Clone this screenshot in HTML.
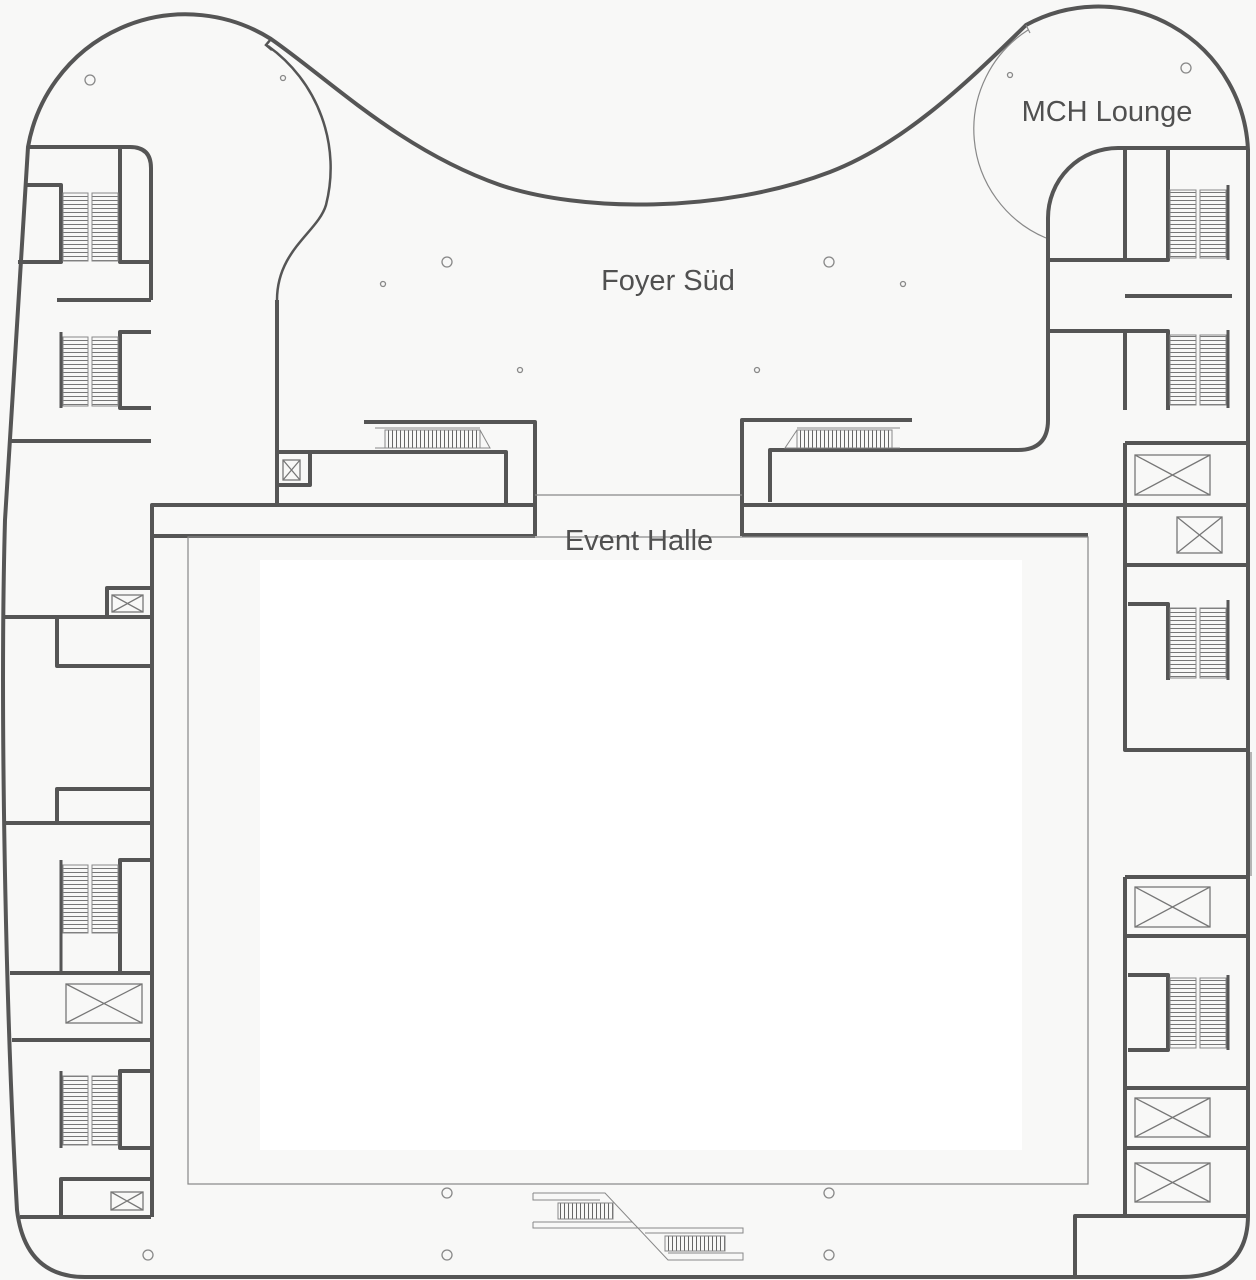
<!DOCTYPE html>
<html><head><meta charset="utf-8"><style>
html,body{margin:0;padding:0;background:#f8f8f7;}
svg{display:block;}
text{font-family:"Liberation Sans",sans-serif;fill:#505050;font-size:29px;}
</style></head><body>
<svg width="1256" height="1280" viewBox="0 0 1256 1280" xmlns="http://www.w3.org/2000/svg">
<defs>
<pattern id="hs" width="6" height="4" patternUnits="userSpaceOnUse"><rect width="6" height="4" fill="#f8f8f7"/><line x1="0" y1="0.5" x2="6" y2="0.5" stroke="#777" stroke-width="1"/></pattern>
<pattern id="vs" width="4" height="6" patternUnits="userSpaceOnUse"><rect width="4" height="6" fill="#f8f8f7"/><line x1="0.5" y1="0" x2="0.5" y2="6" stroke="#666" stroke-width="1"/></pattern>
</defs>
<rect x="0" y="0" width="1256" height="1280" fill="#f8f8f7"/>
<rect x="260" y="560" width="762" height="590" fill="#ffffff"/>

<g fill="none" stroke="#555" stroke-width="4" stroke-linejoin="round">
<path d="M28,147 A160 160 0 0 1 271,39 C330,80 400,150 500,185 C580,212 720,214 830,172 C900,145 960,90 1026,25 A150 150 0 0 1 1248,150 L1248,1215 Q1248,1277 1180,1277 L85,1277 Q25,1277 17,1210 C5,1000 0,700 5,520 Z"/>
<path d="M28,147 L130,147 Q151,147 151,168 L151,300"/>
<path d="M120,147 L120,262 L151,262"/>
<path d="M25,185 L61,185 L61,262 L18,262"/>
<path d="M57,300 L151,300"/>
<path d="M151,332 L120,332 L120,408 L151,408"/>
<path d="M61,332 L61,408" stroke-width="3"/>
<path d="M10,441 L151,441"/>
<path d="M277,300 L277,505"/>
<path d="M277,452 L506,452 L506,505"/>
<path d="M310,452 L310,485 L277,485"/>
<path d="M364,422 L535,422 L535,536"/>
<path d="M535,505 L152,505 L152,1217"/>
<path d="M535,536 L152,536"/>
<path d="M1248,148 L1118,148 A70 70 0 0 0 1048,218 L1048,420 Q1048,450 1018,450 L770,450 L770,502"/>
<path d="M912,420 L742,420 L742,536"/>
<path d="M742,505 L1125,505"/>
<path d="M742,535 L1088,535"/>
<path d="M1125,148 L1125,260"/>
<path d="M1168,148 L1168,260 L1048,260"/>
<path d="M1228,185 L1228,260" stroke-width="3"/>
<path d="M1125,296 L1232,296"/>
<path d="M1048,331 L1168,331 L1168,410"/>
<path d="M1125,331 L1125,410"/>
<path d="M1228,330 L1228,408" stroke-width="3"/>
<path d="M1125,443 L1248,443"/>
<path d="M1125,443 L1125,750 L1248,750"/>
<path d="M1125,505 L1248,505"/>
<path d="M1125,565 L1248,565"/>
<path d="M1128,604 L1168,604 L1168,680"/>
<path d="M1228,600 L1228,680" stroke-width="3"/>
<path d="M1125,877 L1248,877"/>
<path d="M1125,877 L1125,1216"/>
<path d="M1125,936 L1248,936"/>
<path d="M1128,975 L1168,975 L1168,1050 L1128,1050"/>
<path d="M1228,975 L1228,1050" stroke-width="3"/>
<path d="M1125,1088 L1248,1088"/>
<path d="M1125,1148 L1248,1148"/>
<path d="M1248,1216 L1075,1216 L1075,1277"/>
<path d="M151,588 L107,588 L107,617"/>
<path d="M5,617 L151,617"/>
<path d="M57,617 L57,666 L151,666"/>
<path d="M151,789 L57,789 L57,823"/>
<path d="M5,823 L151,823"/>
<path d="M151,860 L120,860 L120,973"/>
<path d="M61,860 L61,973" stroke-width="3"/>
<path d="M10,973 L151,973"/>
<path d="M12,1040 L151,1040"/>
<path d="M151,1071 L120,1071 L120,1148 L151,1148"/>
<path d="M61,1071 L61,1148" stroke-width="3"/>
<path d="M151,1179 L61,1179 L61,1217"/>
<path d="M20,1217 L151,1217"/>
</g>

<g fill="none" stroke="#555" stroke-width="2.5">
<path d="M268,46 A150 150 0 0 1 326,205 C318,232 277,250 277,300"/>
<path d="M271,39 L266,45 L272,50"/>
</g>
<g fill="none" stroke="#888" stroke-width="1.2">
<path d="M1028,30 A118 118 0 0 0 1046,238"/>
<line x1="1026" y1="25" x2="1030" y2="33"/>
<rect x="188" y="537" width="900" height="647"/>
<line x1="535" y1="495" x2="742" y2="495"/>
<line x1="1251" y1="752" x2="1251" y2="876"/>
</g>

<g stroke="#888" stroke-width="1">
<rect x="63" y="193" width="25" height="68" fill="url(#hs)"/>
<rect x="92" y="193" width="26" height="68" fill="url(#hs)"/>
<rect x="63" y="337" width="25" height="69" fill="url(#hs)"/>
<rect x="92" y="337" width="26" height="69" fill="url(#hs)"/>
<rect x="1170" y="190" width="26" height="68" fill="url(#hs)"/>
<rect x="1200" y="190" width="26" height="68" fill="url(#hs)"/>
<rect x="1170" y="335" width="26" height="70" fill="url(#hs)"/>
<rect x="1200" y="335" width="26" height="70" fill="url(#hs)"/>
<rect x="1170" y="608" width="26" height="70" fill="url(#hs)"/>
<rect x="1200" y="608" width="26" height="70" fill="url(#hs)"/>
<rect x="1170" y="978" width="26" height="70" fill="url(#hs)"/>
<rect x="1200" y="978" width="26" height="70" fill="url(#hs)"/>
<rect x="63" y="865" width="25" height="68" fill="url(#hs)"/>
<rect x="92" y="865" width="26" height="68" fill="url(#hs)"/>
<rect x="63" y="1076" width="25" height="69" fill="url(#hs)"/>
<rect x="92" y="1076" width="26" height="69" fill="url(#hs)"/>
<rect x="385" y="430" width="95" height="18" fill="url(#vs)"/>
<path d="M480,430 L490,448 L375,448" fill="none"/>
<path d="M375,428 L480,428" fill="none"/>
<rect x="797" y="430" width="95" height="18" fill="url(#vs)"/>
<path d="M797,430 L785,448 L900,448" fill="none"/>
<path d="M797,428 L900,428" fill="none"/>
<path d="M533,1193 L605,1193 L668,1260 L743,1260 L743,1253 L668,1253 M533,1193 L533,1200 L600,1200 M533,1222 L632,1222 M533,1222 L533,1228 L640,1228 L743,1228 L743,1233 L645,1233" fill="none"/>
<rect x="558" y="1203" width="55" height="16" fill="url(#vs)"/>
<rect x="665" y="1236" width="60" height="15" fill="url(#vs)"/>
</g>

<g fill="none" stroke="#777" stroke-width="1.3">
<rect x="283" y="460" width="17" height="20"/><path d="M283,460 L300,480 M300,460 L283,480"/>
<rect x="1135" y="455" width="75" height="40"/><path d="M1135,455 L1210,495 M1210,455 L1135,495"/>
<rect x="1177" y="517" width="45" height="36"/><path d="M1177,517 L1222,553 M1222,517 L1177,553"/>
<rect x="1135" y="887" width="75" height="40"/><path d="M1135,887 L1210,927 M1210,887 L1135,927"/>
<rect x="1135" y="1098" width="75" height="39"/><path d="M1135,1098 L1210,1137 M1210,1098 L1135,1137"/>
<rect x="1135" y="1163" width="75" height="39"/><path d="M1135,1163 L1210,1202 M1210,1163 L1135,1202"/>
<rect x="112" y="595" width="31" height="17"/><path d="M112,595 L143,612 M143,595 L112,612"/>
<rect x="66" y="984" width="76" height="39"/><path d="M66,984 L142,1023 M142,984 L66,1023"/>
<rect x="111" y="1192" width="32" height="18"/><path d="M111,1192 L143,1210 M143,1192 L111,1210"/>
</g>

<g fill="none" stroke="#888" stroke-width="1.3">
<circle cx="90" cy="80" r="5"/><circle cx="283" cy="78" r="2.5"/>
<circle cx="447" cy="262" r="5"/><circle cx="383" cy="284" r="2.5"/>
<circle cx="520" cy="370" r="2.5"/><circle cx="829" cy="262" r="5"/>
<circle cx="903" cy="284" r="2.5"/><circle cx="757" cy="370" r="2.5"/>
<circle cx="1010" cy="75" r="2.5"/><circle cx="1186" cy="68" r="5"/>
<circle cx="148" cy="1255" r="5"/><circle cx="447" cy="1193" r="5"/>
<circle cx="447" cy="1255" r="5"/><circle cx="829" cy="1193" r="5"/>
<circle cx="829" cy="1255" r="5"/>
</g>

<text x="668" y="290" text-anchor="middle">Foyer Süd</text>
<text x="1107" y="121" text-anchor="middle">MCH Lounge</text>
<text x="639" y="550" text-anchor="middle">Event Halle</text>
</svg>
</body></html>
